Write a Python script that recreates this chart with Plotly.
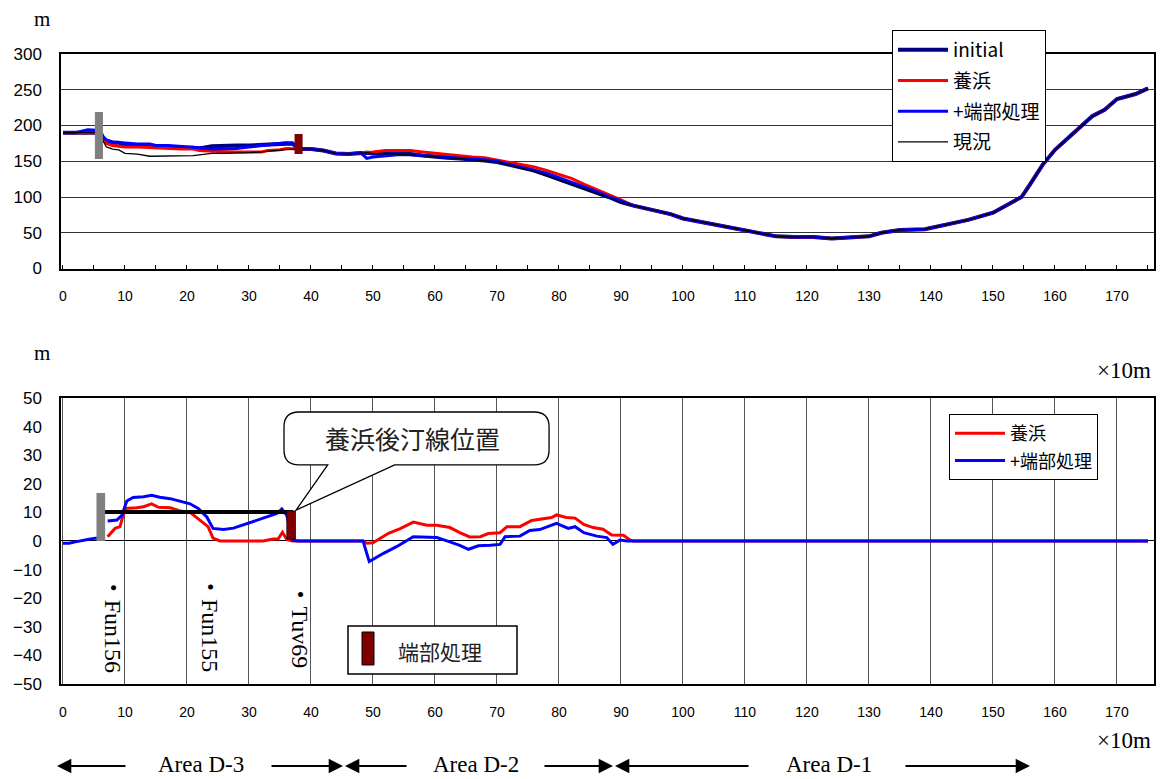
import plotly.graph_objects as go

# ---------------- data (top chart: shoreline position, m ; x in 10 m) ----------------
top_x = [0, 2, 4, 5, 6, 6.5, 7, 8, 9, 10, 12, 14, 15, 17, 19, 21, 22, 24, 26, 28,
         30, 32, 33, 35, 36, 37, 38, 40, 42, 44, 46, 48, 49, 50, 52, 54, 56, 58, 60, 62,
         64, 66, 68, 70, 72, 74, 76, 78, 80, 82, 84, 86, 88, 90, 92, 95, 98, 100, 103, 106,
         109, 112, 115, 118, 121, 124, 127, 130, 132, 135, 139, 143, 146, 150, 152, 154.6,
         156, 158, 160, 161.5, 164, 166, 168, 170, 173, 175]
top_initial = [190, 190, 191, 191, 190, 182, 178, 176, 176, 173,
               172, 171, 170, 170, 169, 169, 168, 171, 172, 172,
               172, 173, 174, 175, 175, 175, 167, 167, 165, 161,
               160, 162, 162, 161, 161, 161, 160, 158, 156, 155,
               154, 153, 151, 149, 145, 141, 137, 131, 125, 119,
               112, 106, 100, 93, 88, 82, 76, 70, 65, 59,
               54, 49, 45, 44, 44, 42, 43, 45, 50, 54,
               55, 62, 68, 78, 88, 100, 118, 145, 166, 178,
               197, 213, 222, 237, 244, 252]
top_nourish = [190, 190, 191, 191, 190, 180, 175, 172, 171, 170,
               170, 169, 168, 168, 167, 167, 165, 164, 163, 163,
               163, 163, 165, 166, 168, 167, 167, 167, 165, 161,
               160, 162, 162, 163, 165, 165, 165, 163, 161, 160,
               158, 156, 155, 152, 148, 145, 142, 137, 132, 126,
               118, 111, 103, 96, 88, 82, 76, 70, 65, 59,
               54, 49, 45, 44, 44, 42, 43, 45, 50, 54,
               55, 62, 68, 78, 88, 100, 118, 145, 166, 178,
               197, 213, 222, 237, 244, 252]
top_endtreat = [190, 190, 194, 194, 193, 184, 180, 177, 176, 175,
                174, 174, 172, 172, 171, 170, 169, 167, 167, 168,
                170, 172, 173, 176, 176, 175, 167, 167, 165, 161,
                160, 162, 154, 156, 158, 159, 159, 158, 157, 156,
                155, 153, 152, 150, 146, 142, 138, 133, 127, 121,
                115, 108, 101, 94, 88, 82, 76, 70, 65, 59,
                54, 49, 45, 44, 44, 42, 43, 45, 50, 54,
                55, 62, 68, 78, 88, 100, 118, 145, 166, 178,
                197, 213, 222, 237, 244, 252]
top_current = [190, 190, 190, 190, 190, 178, 170, 167, 166, 161,
               160, 157, 157, 157, 157, 158, 159, 161, 161, 161,
               162, 163, 164, 165, 166, 167, 167, 167, 165, 161,
               160, 162, 162, 161, 161, 160, 159, 157, 156, 155,
               154, 152, 151, 149, 145, 141, 136, 130, 124, 117,
               111, 106, 100, 92, 88, 82, 76, 70, 65, 59,
               54, 49, 45, 44, 44, 42, 43, 45, 50, 54,
               55, 62, 68, 78, 88, 100, 118, 145, 166, 178,
               197, 213, 222, 237, 244, 252]

# structures drawn on the top chart (x, bottom, top)
top_groin_x = [5.8, 38.0]
top_groin_lo = [153, 160]
top_groin_hi = [219, 188]

# ---------------- data (bottom chart: shoreline change, m) ----------------
bot_x_blue = [0, 1, 2, 3, 4, 5.2, 5.6, 6.6, 7.2, 8.7, 9.5, 10.3, 11.3, 13, 14.3, 15.6, 17.3,
              18.9, 20.5, 21.8, 23.2, 24.2, 25.9, 27.5, 29.6, 31.2, 32.9, 34.5, 35.3, 36.1,
              37, 38, 48.4, 49.4, 51.7, 53.8, 56.5, 60.3, 62.4, 64, 65.4, 67, 68.9, 70.5,
              71.3, 73.7, 75.3, 76.9, 79.6, 81.5, 82.6, 84, 86.1, 87.7, 88.7, 89.8, 91, 175]
bot_blue = [-0.8, -0.8, -0.3, 0.2, 0.5, 1.0, 1.0, None, 7.0, 7.3, 9, 14, 15.2, 15.5, 16, 15.3,
            14.8, 14, 13, 11.4, 8.4, 4.4, 4.0, 4.5, 6, 7.3, 8.3, 9.6, 11.2, 9,
            0.3, 0, 0, -7.2, -4.3, -2, 1.5, 1.2, -0.3, -1.5, -2.9, -1.7, -1.5, -1.2,
            1.5, 1.7, 3.7, 4, 6.2, 4.4, 5, 2.9, 1.7, 1.2, -1.2, 0.3, 0, 0]
bot_x_red = [7.2, 8.4, 9.2, 10, 11.9, 13, 14.3, 15.4, 17.3, 18.9, 20.5, 22.1, 23.4, 24.2,
             25.3, 32.3, 33.9, 34.7, 35.4, 36.1, 37, 48.4, 49, 50, 52.5, 54.4, 56.5, 58.7,
             60.3, 62.4, 64, 65.6, 67.3, 68.6, 70.5, 71.6, 73.7, 75.6, 77.5, 78.8, 79.6,
             81.2, 82.6, 84, 85.5, 87.1, 88.5, 90.4, 91.5, 92, 175]
bot_red = [1.5, 4.4, 5, 11.4, 11.6, 12, 13, 11.8, 11.6, 10.5, 10, 7.3, 5, 1,
           0, 0, 0.7, 0.7, 3, 0.5, 0, 0, -0.8, -0.6, 2.7, 4.3, 6.6, 5.5,
           5.5, 4.7, 2.9, 1.4, 1.5, 2.6, 2.9, 5, 5, 7.2, 7.8, 8.2, 9.1,
           8.2, 8, 5.8, 4.7, 4.1, 2.1, 2, 0.3, 0, 0]
shore_x = [6.1, 37.1]
shore_y = [10.1, 10.1]
bot_groin_x = [6.1, 36.8]
bot_groin_lo = [0, 0.7]
bot_groin_hi = [16.8, 10.5]
pos_labels = ["・Fun156", "・Fun155", "・Tuv69"]
pos_x = [8.1, 23.7, 38.2]
pos_y = [-29, -29, -29.5]
x_ticks = list(range(0, 171, 10))
area_labels = ["Area D-3", "Area D-2", "Area D-1"]

# ---------------- figure ----------------
SANS = "Liberation Sans, Noto Sans CJK JP"
CJK = "Noto Sans CJK JP"
SERIF = "Liberation Serif, Noto Sans CJK JP"

fig = go.Figure()

series = [("initial", top_initial, "#000080", 4),
          ("養浜", top_nourish, "#FF0000", 3),
          ("+端部処理", top_endtreat, "#0000FF", 3),
          ("現況", top_current, "#000000", 1.3)]
for i, (name, ys, col, w) in enumerate(series):
    fig.add_trace(go.Scatter(x=top_x, y=ys, name=name, mode="lines",
                             line=dict(color=col, width=w),
                             legendgroup="t%d" % i, legend="legend",
                             xaxis="x", yaxis="y"))

fig.add_trace(go.Scatter(x=bot_x_red, y=bot_red, name="養浜", mode="lines",
                         line=dict(color="#FF0000", width=3),
                         legendgroup="b0", legend="legend2", xaxis="x2", yaxis="y2"))
fig.add_trace(go.Scatter(x=bot_x_blue, y=bot_blue, name="+端部処理", mode="lines",
                         line=dict(color="#0000FF", width=3), connectgaps=False,
                         legendgroup="b1", legend="legend2", xaxis="x2", yaxis="y2"))
fig.add_trace(go.Scatter(x=shore_x, y=shore_y, mode="lines", showlegend=False,
                         line=dict(color="#000000", width=4), xaxis="x2", yaxis="y2"))

shapes = []
bar_cols = ["#808080", "#7F0000"]
for xc, lo, hi, c in zip(top_groin_x, top_groin_lo, top_groin_hi, bar_cols):
    shapes.append(dict(type="rect", xref="x", yref="y", x0=xc - 0.65, x1=xc + 0.65,
                       y0=lo, y1=hi, fillcolor=c, line=dict(width=0)))
for xc, lo, hi, c in zip(bot_groin_x, bot_groin_lo, bot_groin_hi, bar_cols):
    shapes.append(dict(type="rect", xref="x2", yref="y2", x0=xc - 0.7, x1=xc + 0.7,
                       y0=lo, y1=hi, fillcolor=c,
                       line=dict(width=0.8 if c == "#7F0000" else 0, color="#300000")))

# speech-bubble callout (bottom chart data coordinates)
L, R, T, B = 35.65, 78.4, 45.1, 26.6
rx, ry = 2.4, 5.2
px1, px2, tipx, tipy = 42.7, 53.5, 37.6, 10.8
path = (f"M {L+rx},{T} L {R-rx},{T} Q {R},{T} {R},{T-ry} L {R},{B+ry} Q {R},{B} {R-rx},{B} "
        f"L {px2},{B} L {tipx},{tipy} L {px1},{B} L {L+rx},{B} Q {L},{B} {L},{B+ry} "
        f"L {L},{T-ry} Q {L},{T} {L+rx},{T} Z")
shapes.append(dict(type="path", xref="x2", yref="y2", path=path, fillcolor="white",
                   line=dict(color="black", width=1.3)))

# key box for 端部処理 (paper coordinates)
def px2paper(px, py):
    return (px - 61) / 1093.0, 1 - (py - 54) / 630.0

kx0, ky0 = px2paper(348, 626)
kx1, ky1 = px2paper(517, 674)
shapes.append(dict(type="rect", xref="paper", yref="paper", x0=kx0, x1=kx1, y0=ky1, y1=ky0,
                   fillcolor="white", line=dict(color="black", width=1.5)))
rx0, ry0 = px2paper(362, 632)
rx1, ry1 = px2paper(374, 665)
shapes.append(dict(type="rect", xref="paper", yref="paper", x0=rx0, x1=rx1, y0=ry1, y1=ry0,
                   fillcolor="#7F0000", line=dict(color="black", width=1)))

annotations = []
annotations.append(dict(xref="x2", yref="y2", x=(L + R) / 2 - 0.6, y=(T + B) / 2 + 0.3,
                        xanchor="center", yanchor="middle",
                        text="養浜後汀線位置", showarrow=False,
                        font=dict(family=CJK, size=25, color="#222")))
tx, ty = px2paper(440, 651)
annotations.append(dict(xref="paper", yref="paper", x=tx, y=ty, text="端部処理",
                        xanchor="center", yanchor="middle",
                        showarrow=False, font=dict(family=CJK, size=21, color="#222")))
for lab, xv, yv in zip(pos_labels, pos_x, pos_y):
    annotations.append(dict(xref="x2", yref="y2", x=xv, y=yv, text=lab, textangle=90,
                            xanchor="center", yanchor="middle",
                            showarrow=False, font=dict(family=SERIF, size=24, color="black")))

# unit labels
for (px, py, txt, sz) in [(42, 19, "m", 21), (42, 353, "m", 21),
                          (1124, 370, "×10m", 23), (1124, 741, "×10m", 23)]:
    xp, yp = px2paper(px, py)
    annotations.append(dict(xref="paper", yref="paper", x=xp, y=yp, text=txt,
                            xanchor="center", yanchor="middle",
                            showarrow=False, font=dict(family=SERIF, size=sz, color="black")))

# area labels and arrows
for lab, cx in zip(area_labels, [201, 476, 829]):
    xp, yp = px2paper(cx, 764)
    annotations.append(dict(xref="paper", yref="paper", x=xp, y=yp, text=lab,
                            xanchor="center", yanchor="middle",
                            showarrow=False, font=dict(family=SERIF, size=23, color="black")))
for head, tail in [(57, 127), (343, 270), (345, 408), (613, 543), (615, 750), (1030, 904)]:
    xp, yp = px2paper(head, 766)
    annotations.append(dict(xref="paper", yref="paper", x=xp, y=yp, ax=tail - head, ay=0,
                            axref="pixel", ayref="pixel", text="", showarrow=True,
                            arrowhead=2, arrowsize=1.3, arrowwidth=2.2, arrowcolor="black"))

lg0x, lg0y = px2paper(892, 30)
lg1x, lg1y = px2paper(949, 414)

fig.update_layout(
    width=1169, height=779,
    margin=dict(l=61, r=15, t=54, b=95),
    paper_bgcolor="white", plot_bgcolor="white",
    font=dict(family=SANS, color="black"),
    xaxis=dict(domain=[0, 1], anchor="y", range=[-0.32, 175.97], tickvals=x_ticks,
               ticks="inside", ticklen=4, tickcolor="black",
               minor=dict(dtick=5, tick0=0, ticks="inside", ticklen=4, tickcolor="black"),
               showgrid=False, zeroline=False, showline=True, linecolor="black", linewidth=1.5,
               mirror=True, tickfont=dict(size=14), ticklabelstandoff=14),
    yaxis=dict(domain=[0.6595, 1], anchor="x", range=[0, 300], dtick=50,
               showgrid=True, gridcolor="#333333", gridwidth=1, zeroline=False,
               showline=True, linecolor="black", linewidth=1.5, mirror=True,
               tickfont=dict(size=17), ticklabelstandoff=14),
    xaxis2=dict(domain=[0, 1], anchor="y2", range=[-0.32, 175.97], tickvals=x_ticks,
                showgrid=True, gridcolor="#555555", gridwidth=1, zeroline=False,
                showline=True, linecolor="black", linewidth=1.5, mirror=True,
                tickfont=dict(size=14), ticklabelstandoff=14),
    yaxis2=dict(domain=[0, 0.454], anchor="x2", range=[-50, 50], dtick=10,
                showgrid=False, zeroline=True, zerolinecolor="black", zerolinewidth=1,
                showline=True, linecolor="black", linewidth=1.5, mirror=True,
                tickfont=dict(size=17), ticklabelstandoff=14),
    legend=dict(x=lg0x, y=lg0y, xanchor="left", yanchor="top", bgcolor="white",
                bordercolor="black", borderwidth=1, font=dict(family=CJK, size=19),
                tracegroupgap=3, itemwidth=50, traceorder="grouped"),
    legend2=dict(x=lg1x, y=lg1y, xanchor="left", yanchor="top", bgcolor="white",
                 bordercolor="black", borderwidth=1, font=dict(family=CJK, size=18),
                 tracegroupgap=1, itemwidth=50, traceorder="grouped"),
    shapes=shapes, annotations=annotations,
)

fig.write_html("out.html")
